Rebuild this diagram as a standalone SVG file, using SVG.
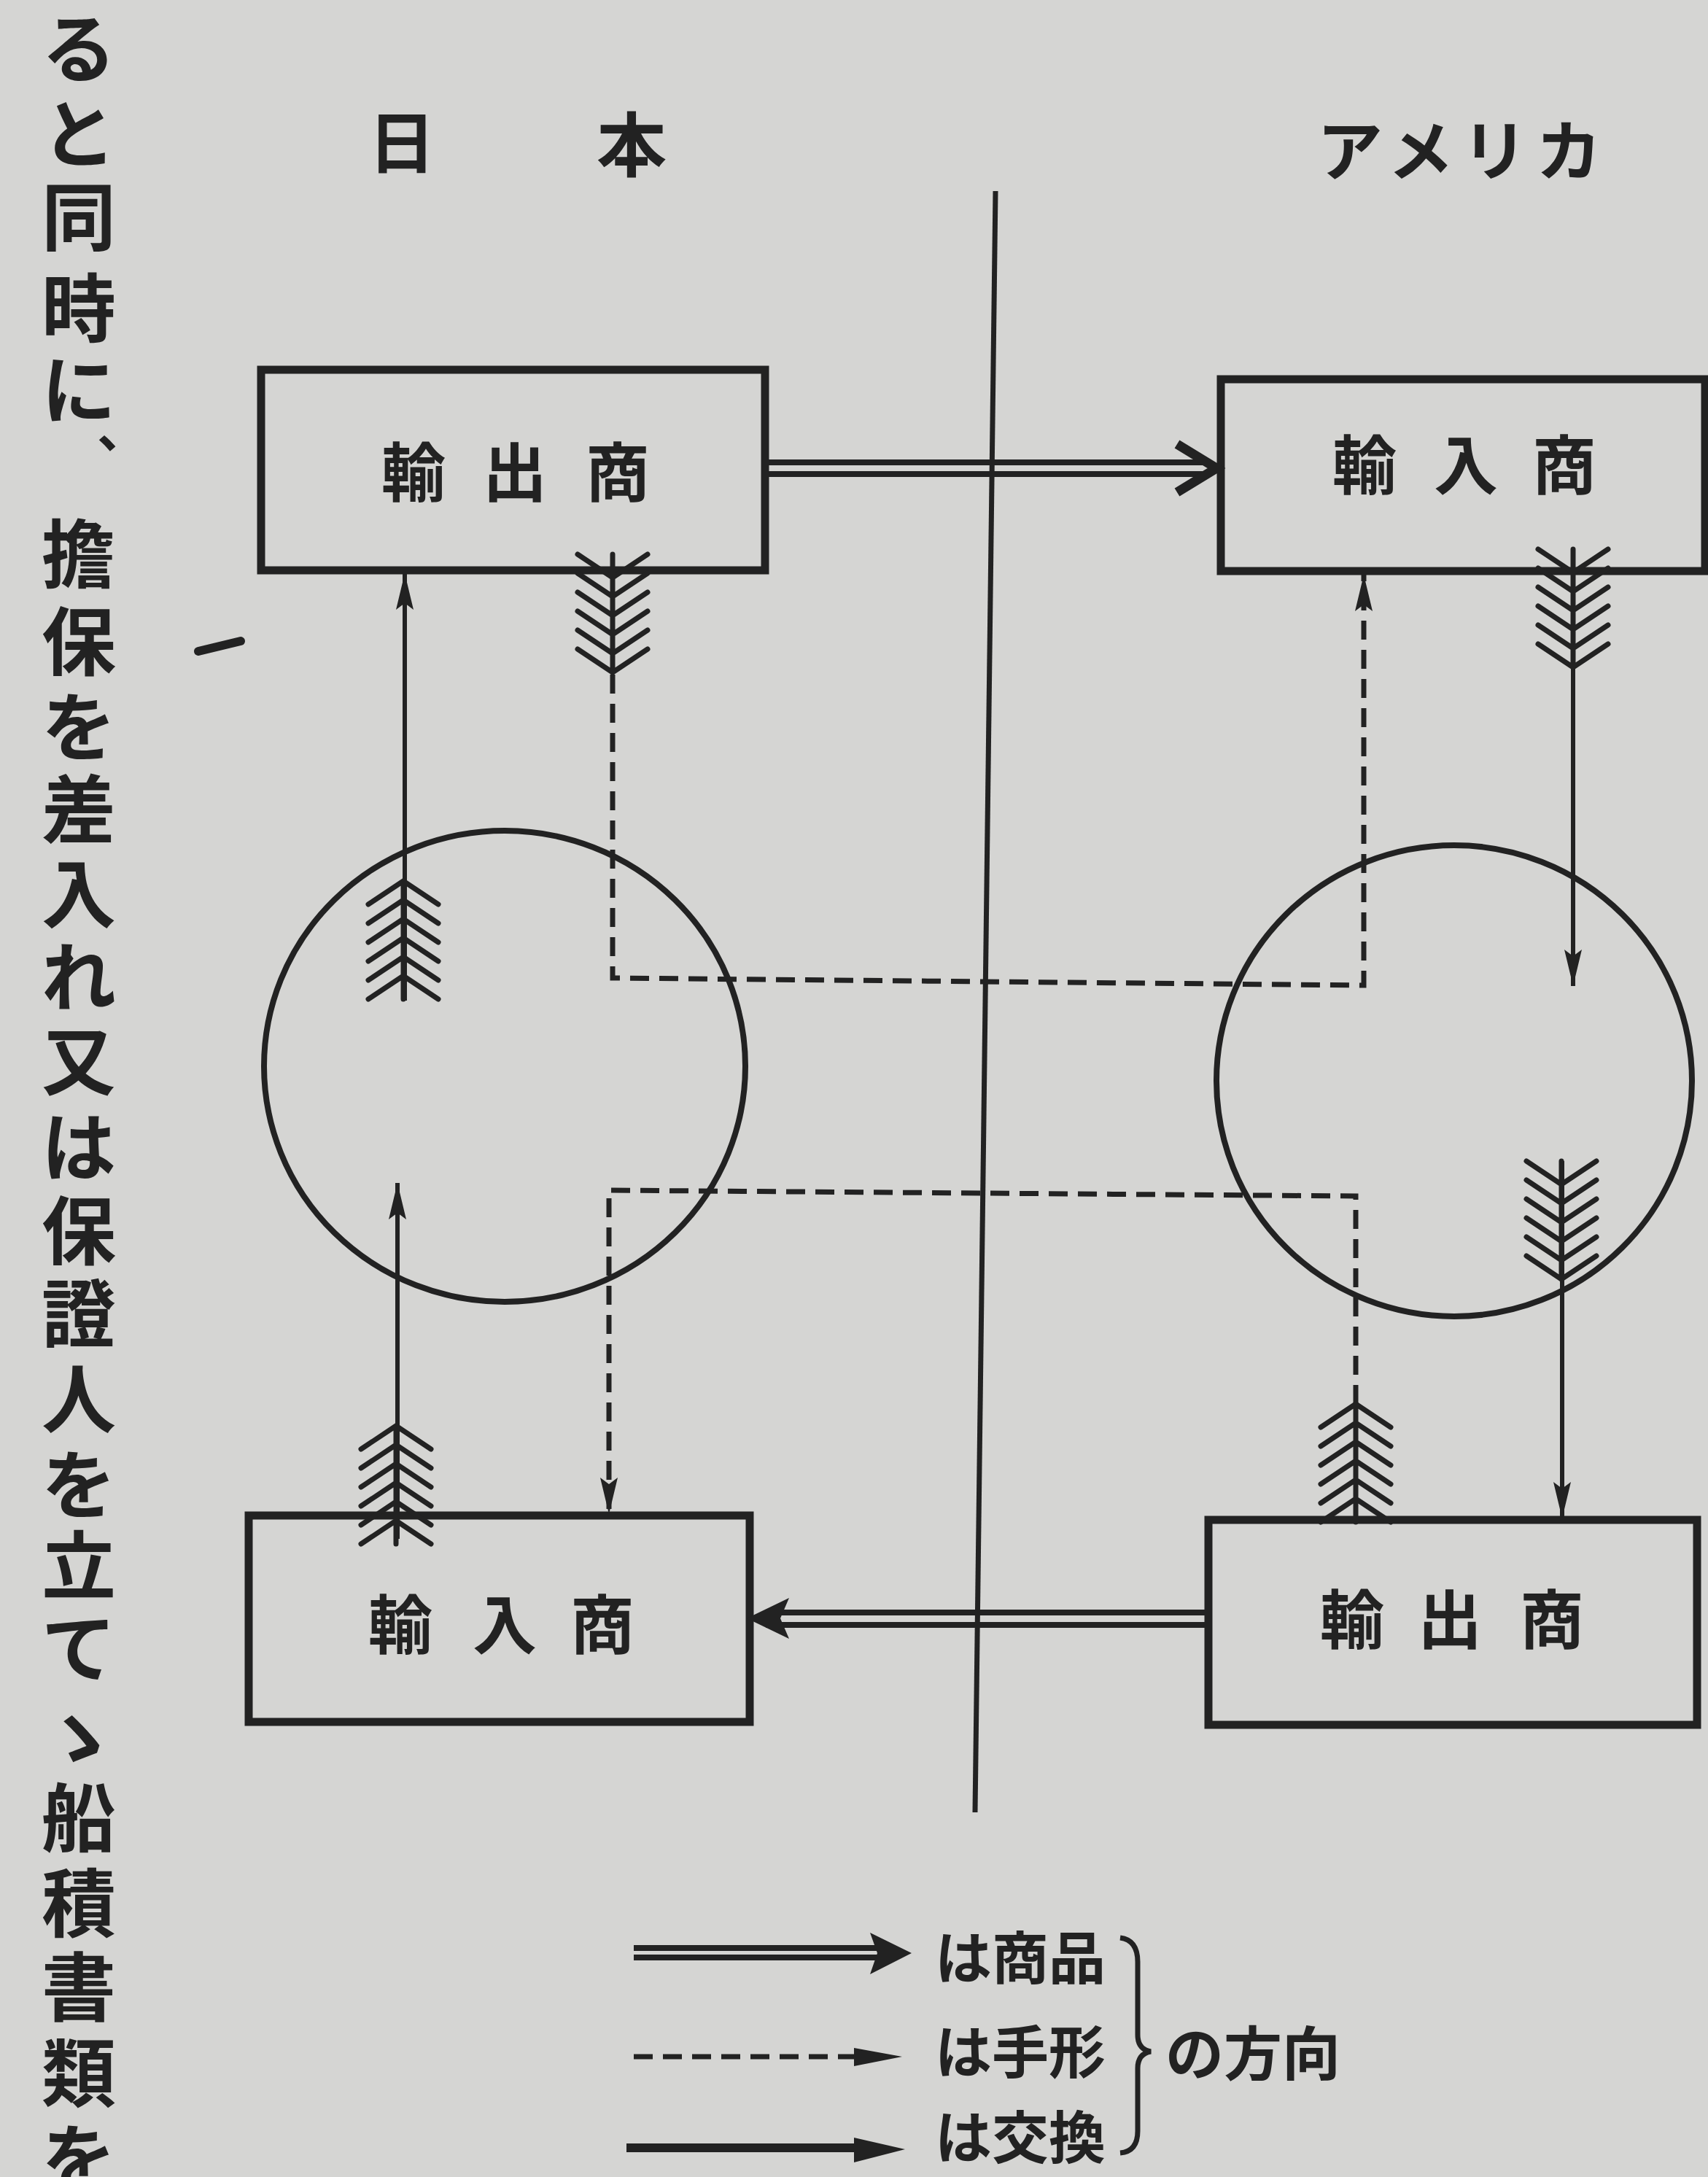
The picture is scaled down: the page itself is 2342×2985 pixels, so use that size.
<svg xmlns="http://www.w3.org/2000/svg" width="2342" height="2985" viewBox="0 0 2342 2985">
<style>
.t{font-family:"Noto Sans CJK JP","Noto Sans CJK SC",sans-serif;font-weight:700;fill:#222}
.lbl{font-size:88px;text-anchor:middle}
.vt{font-size:102px;text-anchor:middle}
.box{fill:none;stroke:#222;stroke-width:11}
.circ{fill:none;stroke:#222;stroke-width:8}
.solid{fill:none;stroke:#222;stroke-width:6}
.dash{fill:none;stroke:#222;stroke-width:7;stroke-dasharray:26 14}
.dbl{fill:none;stroke:#222;stroke-width:8}
.fea{fill:none;stroke:#222;stroke-width:7;stroke-linecap:round}
</style>
<defs>
<marker id="ah" markerUnits="userSpaceOnUse" markerWidth="52" markerHeight="28" refX="50" refY="14" orient="auto">
<path d="M0,2 L50,14 L0,26 L9,14 z" fill="#222"/>
</marker>
<g id="fUp" class="fea">
<path d="M0,0 L0,162 M-48,32 L0,0 L48,32 M-48,58 L0,26 L48,58 M-48,84 L0,52 L48,84 M-48,110 L0,78 L48,110 M-48,136 L0,104 L48,136 M-48,162 L0,130 L48,162"/>
</g>
</defs>
<rect width="2342" height="2985" fill="#d5d5d3"/>

<g id="body-text" class="t vt">
<text x="108" y="105">る</text>
<text x="108" y="222">と</text>
<text x="108" y="336">同</text>
<text x="108" y="461">時</text>
<text x="108" y="573">に</text>
<text x="168" y="614" font-size="70">、</text>
<text x="108" y="798">擔</text>
<text x="108" y="918">保</text>
<text x="108" y="1035">を</text>
<text x="108" y="1148">差</text>
<text x="108" y="1264">入</text>
<text x="108" y="1378">れ</text>
<text x="108" y="1493">又</text>
<text x="108" y="1611">は</text>
<text x="108" y="1726">保</text>
<text x="108" y="1840">證</text>
<text x="108" y="1957">人</text>
<text x="108" y="2074">を</text>
<text x="108" y="2185">立</text>
<text x="108" y="2298">て</text>
<text x="108" y="2420">ゝ</text>
<text x="108" y="2531">船</text>
<text x="108" y="2648">積</text>
<text x="108" y="2763">書</text>
<text x="108" y="2881">類</text>
<text x="108" y="2998">を</text>
</g>
<path d="M272,893 L330,879" stroke="#222" stroke-width="12" stroke-linecap="round"/>

<g id="headers" class="t">
<text x="551" y="230" font-size="92" text-anchor="middle">日</text>
<text x="866" y="234" font-size="96" text-anchor="middle">本</text>
<text x="1806" y="240" font-size="90" textLength="390" lengthAdjust="spacing">アメリカ</text>
</g>

<g id="divider">
<line x1="1365" y1="262" x2="1337" y2="2485" stroke="#222" stroke-width="7"/>
</g>

<g id="node-jp-exporter">
<rect x="358" y="507" width="691" height="275" class="box"/>
<text class="t lbl" x="567 706 847" y="680">輸出商</text>
</g>
<g id="node-us-importer">
<rect x="1674" y="520" width="664" height="263" class="box"/>
<text class="t lbl" x="1871 2010 2145" y="670">輸入商</text>
</g>
<g id="node-jp-importer">
<rect x="341" y="2078" width="687" height="283" class="box"/>
<text class="t lbl" x="549 692 826" y="2260">輸入商</text>
</g>
<g id="node-us-exporter">
<rect x="1657" y="2084" width="670" height="281" class="box"/>
<text class="t lbl" x="1854 1988 2128" y="2253">輸出商</text>
</g>
<g id="node-jp-circle">
<ellipse cx="692" cy="1462" rx="330" ry="323" class="circ"/>
</g>
<g id="node-us-circle">
<ellipse cx="1994" cy="1482" rx="326" ry="323" class="circ"/>
</g>

<g id="connectors">
<line x1="1049" y1="634" x2="1660" y2="634" class="dbl"/>
<line x1="1049" y1="650" x2="1660" y2="650" class="dbl"/>
<polyline points="1614,609 1668,642 1614,675" fill="none" stroke="#222" stroke-width="13"/>
<line x1="1657" y1="2211" x2="1050" y2="2211" class="dbl"/>
<line x1="1657" y1="2228" x2="1050" y2="2228" class="dbl"/>
<polygon points="1024,2219 1082,2191 1070,2219 1082,2247" fill="#222"/>

<line x1="555" y1="1372" x2="555" y2="786" class="solid" marker-end="url(#ah)"/>
<use href="#fUp" transform="translate(553,1208)"/>

<path d="M840,925 L840,1341 L1870,1351 L1870,788" class="dash" marker-end="url(#ah)"/>
<use href="#fUp" transform="translate(840,922) scale(1,-1)"/>

<line x1="2157" y1="782" x2="2157" y2="1352" class="solid" marker-end="url(#ah)"/>
<use href="#fUp" transform="translate(2157,915) scale(1,-1)"/>

<line x1="2142" y1="1592" x2="2142" y2="2082" class="solid" marker-end="url(#ah)"/>
<use href="#fUp" transform="translate(2141,1754) scale(1,-1)"/>

<path d="M1859,1925 L1859,1640 L835,1632 L835,2076" class="dash" marker-end="url(#ah)"/>
<use href="#fUp" transform="translate(1859,1925)"/>

<line x1="545" y1="2110" x2="545" y2="1622" class="solid" marker-end="url(#ah)"/>
<use href="#fUp" transform="translate(543,1955)"/>
</g>

<g id="legend">
<line x1="869" y1="2671" x2="1205" y2="2671" class="dbl"/>
<line x1="869" y1="2684" x2="1205" y2="2684" class="dbl"/>
<polygon points="1193,2650 1250,2678 1193,2707 1203,2678" fill="#222"/>
<line x1="869" y1="2820" x2="1180" y2="2820" class="dash" stroke-dasharray="20 14"/>
<polygon points="1171,2808 1237,2820 1171,2833" fill="#222"/>
<line x1="859" y1="2945" x2="1180" y2="2945" stroke="#222" stroke-width="12"/>
<polygon points="1171,2931 1241,2947 1171,2965" fill="#222"/>
<text class="t" x="1282" y="2714" font-size="78">は商品</text>
<text class="t" x="1282" y="2843" font-size="78">は手形</text>
<text class="t" x="1282" y="2960" font-size="78">は交換</text>
<path d="M1536,2657 Q1560,2660 1560,2690 L1560,2790 Q1560,2810 1578,2813 Q1560,2816 1560,2836 L1560,2922 Q1560,2950 1536,2952" fill="none" stroke="#222" stroke-width="7"/>
<text class="t" x="1598" y="2845" font-size="80">の方向</text>
</g>
</svg>
